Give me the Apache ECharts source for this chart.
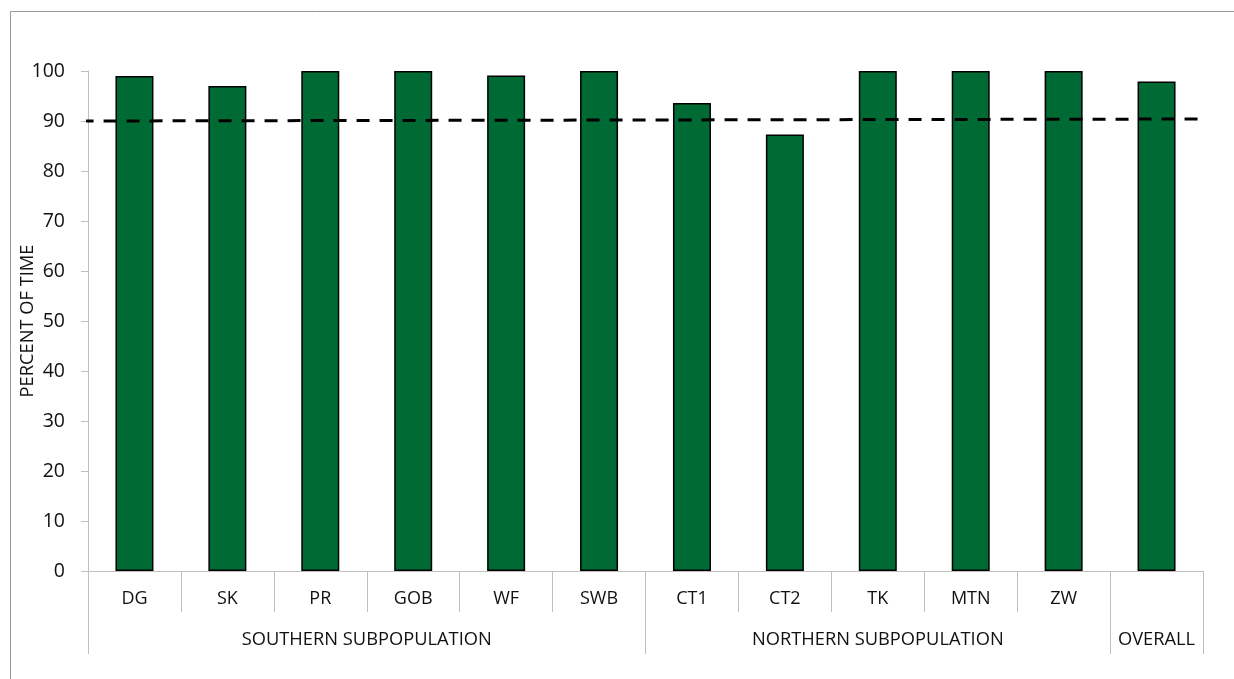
<!DOCTYPE html>
<html>
<head>
<meta charset="utf-8">
<script src="https://cdn.jsdelivr.net/npm/echarts@6/dist/echarts.min.js"></script>
<style>
html,body{margin:0;padding:0;background:#fff;}
#c{width:1234px;height:679px;}
</style>
</head>
<body>
<div id="c"></div>
<script>
var categories = ['DG','SK','PR','GOB','WF','SWB','CT1','CT2','TK','MTN','ZW',''];
var values = [99.0, 97.0, 100, 100, 99.1, 100, 93.6, 87.3, 100, 100, 100, 97.9];
var groupNames = ['SOUTHERN SUBPOPULATION','NORTHERN SUBPOPULATION','OVERALL'];
var groupCenters = [3, 8.5, 11.5];
var groupBounds = [0, 6, 11, 12];
var targetLine = [[-0.08, 90.0], [12, 90.4]];

var FONT = '"Open Sans", "Noto Sans", sans-serif';
var chart = echarts.init(document.getElementById('c'), null, {renderer:'canvas'});
var option = {
  animation: false,
  backgroundColor: '#fff',
  graphic: [{
    type: 'rect',
    shape: {x: 10.5, y: 11.5, width: 1240, height: 700},
    style: {fill: 'none', stroke: '#9a9a9a', lineWidth: 1},
    silent: true, z: -10
  }],
  grid: {left: 88, right: 31, top: 71, bottom: 108, containLabel: false},
  xAxis: [{
    type: 'category',
    data: categories,
    position: 'bottom',
    axisLine: {show: true, lineStyle: {color: '#bfbfbf', width: 1}},
    axisTick: {show: true, interval: 0, length: 41, lineStyle: {color: '#bfbfbf'}},
    axisLabel: {interval: 0, margin: 19, color: '#111', fontSize: 18, fontFamily: FONT},
    splitLine: {show: false}
  }, {
    type: 'value',
    min: 0, max: 12,
    position: 'bottom',
    offset: 41,
    axisLine: {show: false},
    axisTick: {show: true, customValues: groupBounds, length: 42, lineStyle: {color: '#bfbfbf'}},
    axisLabel: {
      customValues: groupCenters,
      margin: 19, color: '#111', fontSize: 18.3, fontFamily: FONT,
      formatter: function (v) {
        var i = groupCenters.indexOf(v);
        return i >= 0 ? groupNames[i] : '';
      }
    },
    splitLine: {show: false}
  }],
  yAxis: {
    type: 'value',
    min: 0, max: 100, interval: 10,
    name: 'PERCENT OF TIME',
    nameLocation: 'middle',
    nameRotate: 90,
    nameGap: 51,
    nameMoveOverlap: false,
    nameTextStyle: {color: '#111', fontSize: 18.3, fontFamily: FONT},
    axisLine: {show: true, lineStyle: {color: '#bfbfbf', width: 1}},
    axisTick: {show: true, length: 7, lineStyle: {color: '#bfbfbf'}},
    axisLabel: {margin: 23, color: '#111', fontSize: 19.5, fontFamily: FONT},
    splitLine: {show: false}
  },
  series: [{
    type: 'bar',
    xAxisIndex: 0,
    data: values,
    barWidth: 38,
    itemStyle: {color: '#006A34', borderColor: '#000', borderWidth: 1.5},
    z: 2
  }, {
    type: 'line',
    xAxisIndex: 1,
    data: targetLine,
    clip: false,
    symbol: 'none',
    lineStyle: {color: '#000', width: 3, type: [13, 10]},
    z: 5
  }]
};
chart.setOption(option);
</script>
</body>
</html>
